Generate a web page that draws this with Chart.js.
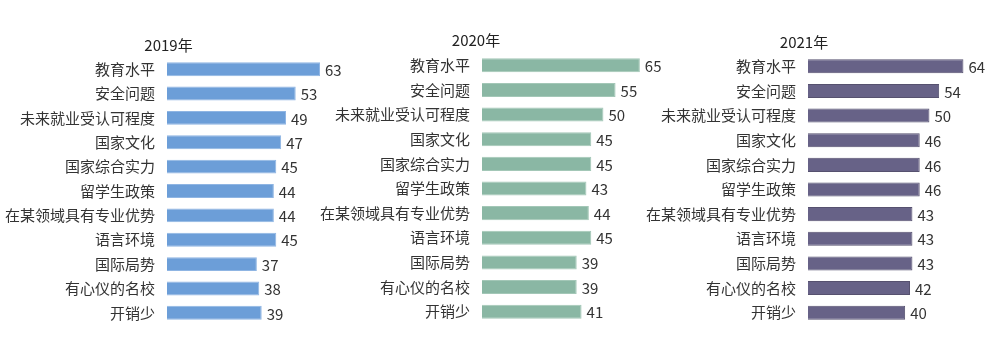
<!DOCTYPE html>
<html><head><meta charset="utf-8">
<script src="https://cdn.jsdelivr.net/npm/chart.js@4/dist/chart.umd.min.js"></script>
<style>
html,body{margin:0;padding:0;background:#fff;}
#wrap{position:relative;width:1000px;height:338px;overflow:hidden;background:#fff;}
.p{position:absolute;top:0;height:338px;}
</style></head>
<body><div id="wrap">
<div class="p" style="left:0;width:466px"><canvas id="c1"></canvas></div>
<div class="p" style="left:300px;width:470px"><canvas id="c2"></canvas></div>
<div class="p" style="left:630px;width:466px"><canvas id="c3"></canvas></div>
</div>
<script>
const categories = ["教育水平","安全问题","未来就业受认可程度","国家文化","国家综合实力","留学生政策","在某领域具有专业优势","语言环境","国际局势","有心仪的名校","开销少"];
const years = ["2019年","2020年","2021年"];
const values2019 = [63,53,49,47,45,44,44,45,37,38,39];
const values2020 = [65,55,50,45,45,43,44,45,39,39,41];
const values2021 = [64,54,50,46,46,46,43,43,43,42,40];

const FONT = "'Noto Sans CJK SC','Microsoft YaHei',sans-serif";

const valueLabels = {
  id:'valueLabels',
  afterDatasetsDraw(chart){
    const ctx = chart.ctx;
    const meta = chart.getDatasetMeta(0);
    const data = chart.data.datasets[0].data;
    ctx.save();
    ctx.font = "15px " + FONT;
    ctx.fillStyle = "#333";
    ctx.textAlign = "left";
    ctx.textBaseline = "middle";
    meta.data.forEach((bar,i)=>{
      ctx.fillText(String(data[i]), bar.x + 5, bar.y + 1);
    });
    ctx.restore();
  }
};

function make(id, title, values, color, border, axisW, padTop, padBottom, padRight, layoutBottom){
  new Chart(document.getElementById(id), {
    type:'bar',
    data:{labels:categories, datasets:[{data:values, backgroundColor:color, borderColor:border, borderWidth:1, barPercentage:0.57, categoryPercentage:1}]},
    options:{
      indexAxis:'y', responsive:true, maintainAspectRatio:false, animation:false,
      layout:{padding:{top:0,bottom:layoutBottom,right:padRight,left:0}},
      plugins:{
        legend:{display:false}, tooltip:{enabled:false},
        title:{display:true, text:title, color:'#222', font:{family:FONT,size:15,weight:'normal'}, padding:{top:padTop,bottom:padBottom}}
      },
      scales:{
        x:{display:false, min:0, max:70},
        y:{
          grid:{display:false}, border:{display:false},
          ticks:{color:'#333', padding:4, font:{family:FONT,size:15}, autoSkip:false},
          afterFit(s){ s.width = axisW; }
        }
      }
    },
    plugins:[valueLabels]
  });
}
make('c1', years[0], values2019, '#6c9ed8', '#8fb5e3', 167, 36, 3, 129, 11);
make('c2', years[1], values2020, '#8ab7a4', '#a3c7b7', 182, 31, 4, 118, 14);
make('c3', years[2], values2021, '#676287', '#56516f', 178, 33, 3, 118, 13);
</script></body></html>
